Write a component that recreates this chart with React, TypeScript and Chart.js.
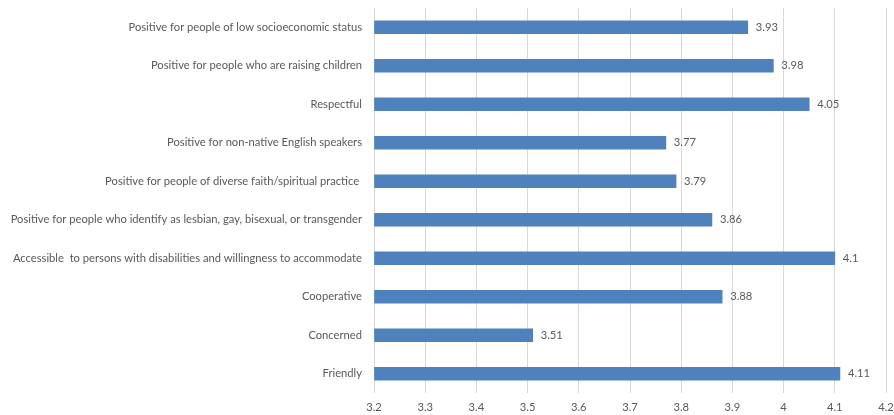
import React, { useEffect, useRef } from "react";
import { Chart, registerables } from "chart.js";

Chart.register(...registerables);

const categories = [
  "Positive for people of low socioeconomic status",
  "Positive for people who are raising children",
  "Respectful",
  "Positive for non-native English speakers",
  "Positive for people of diverse faith/spiritual practice ",
  "Positive for people who identify as lesbian, gay, bisexual, or transgender",
  "Accessible  to persons with disabilities and willingness to accommodate",
  "Cooperative",
  "Concerned",
  "Friendly",
];
const values = [3.93, 3.98, 4.05, 3.77, 3.79, 3.86, 4.1, 3.88, 3.51, 4.11];
const valueLabels = ["3.93", "3.98", "4.05", "3.77", "3.79", "3.86", "4.1", "3.88", "3.51", "4.11"];
const xMin = 3.2;
const xMax = 4.2;
const xStep = 0.1;

const FONT = "Lato, 'Open Sans', sans-serif";
const TEXT = "#595959";

const valueLabelPlugin = {
  id: "valueLabels",
  afterDatasetsDraw(chart: any) {
    const ctx = chart.ctx;
    const meta = chart.getDatasetMeta(0);
    ctx.save();
    ctx.font = `11.2px ${FONT}`;
    ctx.fillStyle = TEXT;
    ctx.textAlign = "left";
    ctx.textBaseline = "middle";
    meta.data.forEach((bar: any, i: number) => {
      ctx.fillText(valueLabels[i], bar.x + 8, bar.y);
    });
    ctx.restore();
  },
};

export default function App() {
  const ref = useRef<HTMLCanvasElement>(null);
  useEffect(() => {
    document.body.style.margin = "0";
    const chart = new Chart(ref.current!, {
      type: "bar",
      data: {
        labels: categories,
        datasets: [
          {
            data: values,
            backgroundColor: "#4F81BD",
            borderColor: "#4F81BD",
            borderWidth: 0,
            barThickness: 13,
            base: xMin,
          },
        ],
      },
      options: {
        indexAxis: "y",
        animation: false,
        responsive: false,
        maintainAspectRatio: false,
        layout: { padding: { left: 0, right: 8, top: 8, bottom: 0 } },
        plugins: { legend: { display: false }, tooltip: { enabled: false } },
        scales: {
          x: {
            min: xMin,
            max: xMax,
            ticks: {
              stepSize: xStep,
              color: TEXT,
              font: { family: FONT, size: 11.2 },
              padding: 8,
              callback: (v: any) => String(Math.round(Number(v) * 10) / 10),
            },
            grid: { color: "#D9D9D9", drawTicks: false },
            border: { display: false },
            afterFit: (scale: any) => {
              scale.height = 22;
              scale.paddingLeft = 0;
              scale.paddingRight = 0;
            },
          },
          y: {
            ticks: {
              color: TEXT,
              font: { family: FONT, size: 11.2 },
              padding: 12,
              autoSkip: false,
            },
            grid: { display: false, drawTicks: false },
            border: { display: false },
            afterFit: (scale: any) => {
              scale.width = 374;
              scale.paddingTop = 0;
              scale.paddingBottom = 0;
            },
          },
        },
      },
      plugins: [valueLabelPlugin],
    });
    return () => chart.destroy();
  }, []);
  return <canvas ref={ref} width={894} height={415} style={{ display: "block" }} />;
}
